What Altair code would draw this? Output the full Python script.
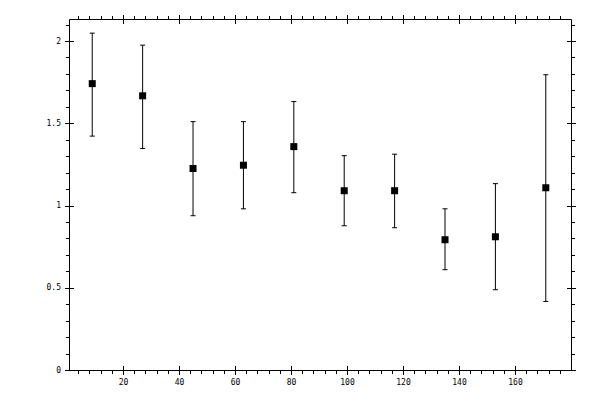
import altair as alt
import pandas as pd

# Data
x_centers = [9, 27, 45, 63, 81, 99, 117, 135, 153, 171]
y_values = [1.741, 1.667, 1.225, 1.245, 1.358, 1.090, 1.090, 0.792, 0.810, 1.108]
y_upper = [2.048, 1.975, 1.510, 1.510, 1.632, 1.303, 1.312, 0.980, 1.133, 1.795]
y_lower = [1.422, 1.347, 0.938, 0.980, 1.078, 0.877, 0.865, 0.610, 0.488, 0.417]

x_major = [20, 40, 60, 80, 100, 120, 140, 160]
x_minor = [v for v in range(4, 180, 4) if v % 20 != 0]
y_major = [0, 0.5, 1, 1.5, 2]
y_minor = [round(v * 0.1, 1) for v in range(1, 22) if v % 5 != 0]

df = pd.DataFrame({"x": x_centers, "y": y_values, "hi": y_upper, "lo": y_lower})

xs = alt.Scale(domain=[0.7, 180], nice=False, zero=False)
ys = alt.Scale(domain=[0, 2.134], nice=False, zero=False)

FONT = "DejaVu Sans Mono"


def axis(orient, values, size, offset, labels, fmt=None, domain=False):
    kw = dict(
        orient=orient,
        values=values,
        tickSize=size,
        offset=offset,
        labels=labels,
        domain=domain,
        domainColor="black",
        domainWidth=1,
        grid=False,
        title=None,
        ticks=True,
        tickColor="black",
        tickWidth=1,
        labelFont=FONT,
        labelFontSize=8,
        labelColor="black",
        labelPadding=4,
    )
    if fmt:
        kw["format"] = fmt
    return alt.Axis(**kw)


base = alt.Chart(df)

points = base.mark_square(size=49, color="black", opacity=1).encode(
    x=alt.X("x:Q", scale=xs, axis=axis("bottom", x_major, 9, -4.5, True, "d")),
    y=alt.Y("y:Q", scale=ys, axis=axis("left", y_major, 9, -4.5, True, "~g")),
)

rules = base.mark_rule(color="black", strokeWidth=1).encode(
    x=alt.X("x:Q", scale=xs, axis=axis("top", x_major, 9, -4.5, False)),
    y=alt.Y("lo:Q", scale=ys, axis=axis("right", y_major, 9, -4.5, False)),
    y2="hi:Q",
)

caps_lo = base.mark_tick(color="black", orient="horizontal", size=5, thickness=1, opacity=1).encode(
    x=alt.X("x:Q", scale=xs, axis=axis("bottom", x_minor, 3.5, 0, False, domain=True)),
    y=alt.Y("lo:Q", scale=ys, axis=axis("left", y_minor, 3.5, 0, False, domain=True)),
)

caps_hi = base.mark_tick(color="black", orient="horizontal", size=5, thickness=1, opacity=1).encode(
    x=alt.X("x:Q", scale=xs, axis=axis("top", x_minor, 3.5, 0, False, domain=True)),
    y=alt.Y("hi:Q", scale=ys, axis=axis("right", y_minor, 3.5, 0, False, domain=True)),
)

chart = (
    alt.layer(rules, caps_lo, caps_hi, points)
    .resolve_axis(x="independent", y="independent")
    .properties(
        width=502,
        height=351,
        padding={"left": 61, "top": 11, "right": 20, "bottom": 20},
        autosize=alt.AutoSizeParams(type="none"),
        background="white",
    )
    .configure_view(strokeWidth=0)
)

chart.save("out.html", embed_options={"renderer": "svg", "actions": False})
